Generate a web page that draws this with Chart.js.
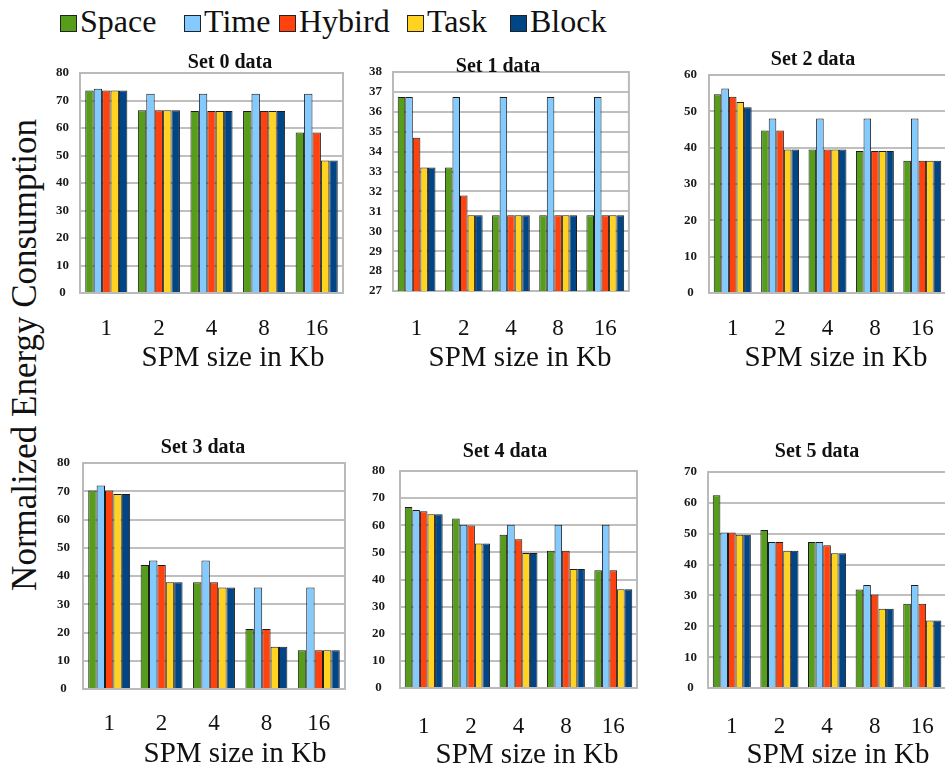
<!DOCTYPE html>
<html>
<head>
<meta charset="utf-8">
<title>Normalized Energy Consumption by SPM size</title>
<script src="https://cdn.jsdelivr.net/npm/chart.js@4/dist/chart.umd.min.js"></script>
<style>
  html, body { margin: 0; padding: 0; background: #fff; }
  body { position: relative; width: 945px; height: 769px; overflow: hidden; font-family: "Liberation Serif", "DejaVu Serif", serif; color: #111; }
  canvas { position: absolute; }
  .item { position: absolute; top: 0; height: 42px; display: flex; align-items: center; font-size: 32px; white-space: nowrap; }
  .sw { width: 15px; height: 15px; border: 1px solid #222; margin-right: 3px; margin-top: 4px; }
  #ylabel { position: absolute; left: 25px; top: 355px; transform: translate(-50%, -50%) rotate(-90deg); font-size: 35px; white-space: nowrap; }
</style>
</head>
<body>
<div id="legend"></div>
<div id="ylabel">Normalized Energy Consumption</div>
<script>
// SPM sizes (Kb) on every x axis
const categories = ['1', '2', '4', '8', '16'];
const seriesNames = ['Space', 'Time', 'Hybird', 'Task', 'Block'];
const seriesColors = ['#579d1c', '#83caff', '#ff420e', '#ffd320', '#004586'];
const setTitles = ['Set 0 data', 'Set 1 data', 'Set 2 data', 'Set 3 data', 'Set 4 data', 'Set 5 data'];

// one row per series (Space, Time, Hybird, Task, Block), one value per SPM size
const set0 = [
  [73.6, 66.5, 66.2, 66.2, 58.4],
  [74.3, 72.5, 72.5, 72.5, 72.5],
  [73.6, 66.5, 66.2, 66.2, 58.4],
  [73.6, 66.5, 66.2, 66.2, 48.2],
  [73.6, 66.5, 66.2, 66.2, 48.2]
];
const set1 = [
  [36.75, 33.2, 30.8, 30.8, 30.8],
  [36.75, 36.75, 36.75, 36.75, 36.75],
  [34.7, 31.8, 30.8, 30.8, 30.8],
  [33.2, 30.8, 30.8, 30.8, 30.8],
  [33.2, 30.8, 30.8, 30.8, 30.8]
];
const set2 = [
  [54.7, 44.7, 39.5, 39.1, 36.4],
  [56.3, 48.0, 48.0, 48.0, 48.0],
  [54.0, 44.7, 39.5, 39.1, 36.4],
  [52.6, 39.5, 39.5, 39.1, 36.4],
  [51.1, 39.5, 39.5, 39.1, 36.4]
];
const set3 = [
  [70.3, 43.9, 37.8, 21.2, 13.7],
  [72.0, 45.5, 45.5, 35.9, 35.9],
  [70.3, 43.9, 37.8, 21.2, 13.7],
  [69.0, 37.8, 35.9, 15.0, 13.7],
  [69.0, 37.8, 35.9, 15.0, 13.7]
];
const set4 = [
  [66.7, 62.5, 56.5, 50.6, 43.4],
  [65.6, 60.2, 60.2, 60.2, 60.2],
  [65.2, 59.9, 54.8, 50.6, 43.4],
  [64.1, 53.3, 49.8, 43.9, 36.4],
  [64.1, 53.3, 49.8, 43.9, 36.4]
];
const set5 = [
  [62.5, 51.2, 47.3, 31.9, 27.3],
  [50.4, 47.3, 47.3, 33.4, 33.4],
  [50.4, 47.3, 46.3, 30.3, 27.3],
  [49.7, 44.5, 43.7, 25.7, 21.9],
  [49.7, 44.5, 43.7, 25.7, 21.9]
];
const allSets = [set0, set1, set2, set3, set4, set5];

// value axis: [min, max, step] per set
const yMin = [0, 27, 0, 0, 0, 0];
const yMax = [80, 38, 60, 80, 80, 70];
const yStep = [10, 1, 10, 10, 10, 10];

// page layout of each panel: plot box [x0, y0, x1, y1], title centre, tick row, axis-label centre, value-label centre x
const layout = [
  { plot: [80, 73, 343, 293],  title: [230, 63],  tickY: 329, xLabel: [233, 358], yLabelX: 62 },
  { plot: [393, 72, 632, 291], title: [498, 67],  tickY: 329, xLabel: [520, 358], yLabelX: 375 },
  { plot: [709, 75, 947, 293], title: [813, 60],  tickY: 329, xLabel: [836, 358], yLabelX: 690 },
  { plot: [83, 463, 345, 689], title: [203, 448], tickY: 724, xLabel: [235, 754], yLabelX: 63 },
  { plot: [400, 471, 641, 688], title: [505, 452], tickY: 727, xLabel: [527, 755], yLabelX: 378 },
  { plot: [708, 472, 950, 688], title: [817, 452], tickY: 727, xLabel: [838, 755], yLabelX: 690 }
];

const FONT = '"Liberation Serif", "DejaVu Serif", serif';

// legend row
const legendX = [60, 184, 279, 407, 510];
const legend = document.getElementById('legend');
seriesNames.forEach((name, i) => {
  const item = document.createElement('div');
  item.className = 'item';
  item.style.left = legendX[i] + 'px';
  const sw = document.createElement('span');
  sw.className = 'sw';
  sw.style.background = seriesColors[i];
  item.appendChild(sw);
  item.appendChild(document.createTextNode(name));
  legend.appendChild(item);
});

Chart.defaults.font.family = FONT;
Chart.defaults.color = '#111';

// grey frame around each plot area
const plotFrame = {
  id: 'plotFrame',
  beforeDatasetsDraw(chart) {
    const { left, top, right, bottom } = chart.chartArea;
    const ctx = chart.ctx;
    ctx.save();
    ctx.strokeStyle = '#bababa';
    ctx.lineWidth = 2;
    ctx.strokeRect(left, top, right - left, bottom - top);
    ctx.restore();
  }
};

// panel heading and x axis caption
const panelText = {
  id: 'panelText',
  afterDraw(chart, args, opts) {
    const ctx = chart.ctx;
    ctx.save();
    ctx.fillStyle = '#111';
    ctx.textAlign = 'center';
    ctx.textBaseline = 'middle';
    ctx.font = 'bold 20px ' + FONT;
    ctx.fillText(opts.title, opts.titleX, opts.titleY);
    ctx.font = '29px ' + FONT;
    ctx.fillText(opts.xLabel, opts.xLabelX, opts.xLabelY);
    ctx.restore();
  }
};

const AXIS_W = 50, PAD_TOP = 40, PAD_RIGHT = 10, AXIS_H = 95;
const TICK_FONT = 23;

layout.forEach((p, k) => {
  const [x0, y0, x1, y1] = p.plot;
  const left = x0 - AXIS_W, top = y0 - PAD_TOP;
  const w = (x1 - x0) + AXIS_W + PAD_RIGHT;
  const h = (y1 - y0) + PAD_TOP + AXIS_H;
  const canvas = document.createElement('canvas');
  canvas.width = w; canvas.height = h;
  canvas.style.left = left + 'px'; canvas.style.top = top + 'px';
  canvas.style.width = w + 'px'; canvas.style.height = h + 'px';
  document.body.appendChild(canvas);

  const datasets = seriesNames.map((name, i) => ({
    label: name,
    data: allSets[k][i],
    backgroundColor: seriesColors[i],
    borderColor: '#1c1c1c',
    borderWidth: 1,
    categoryPercentage: 0.8,
    barPercentage: 1.0
  }));

  new Chart(canvas, {
    type: 'bar',
    data: { labels: categories, datasets },
    plugins: [plotFrame, panelText],
    options: {
      responsive: false,
      animation: false,
      devicePixelRatio: 1,
      layout: { padding: { left: 0, top: PAD_TOP, right: PAD_RIGHT, bottom: 0 } },
      plugins: {
        legend: { display: false },
        tooltip: { enabled: false },
        panelText: {
          title: setTitles[k],
          titleX: p.title[0] - left, titleY: p.title[1] - top,
          xLabel: 'SPM size in Kb',
          xLabelX: p.xLabel[0] - left, xLabelY: p.xLabel[1] - top
        }
      },
      scales: {
        x: {
          grid: { display: false, drawTicks: false },
          border: { display: false },
          ticks: {
            font: { size: TICK_FONT },
            color: '#111',
            padding: p.tickY - y1 - TICK_FONT * 0.6,
            maxRotation: 0
          },
          afterFit(scale) { scale.height = AXIS_H; }
        },
        y: {
          min: yMin[k], max: yMax[k],
          grid: { color: '#bfbfbf', lineWidth: 2, drawTicks: false },
          border: { display: false },
          ticks: {
            stepSize: yStep[k],
            font: { size: 13, weight: 'bold' },
            color: '#1a1a1a',
            crossAlign: 'center',
            padding: x0 - p.yLabelX - 7
          },
          afterFit(scale) { scale.width = AXIS_W; }
        }
      }
    }
  });
});
</script>
</body>
</html>
